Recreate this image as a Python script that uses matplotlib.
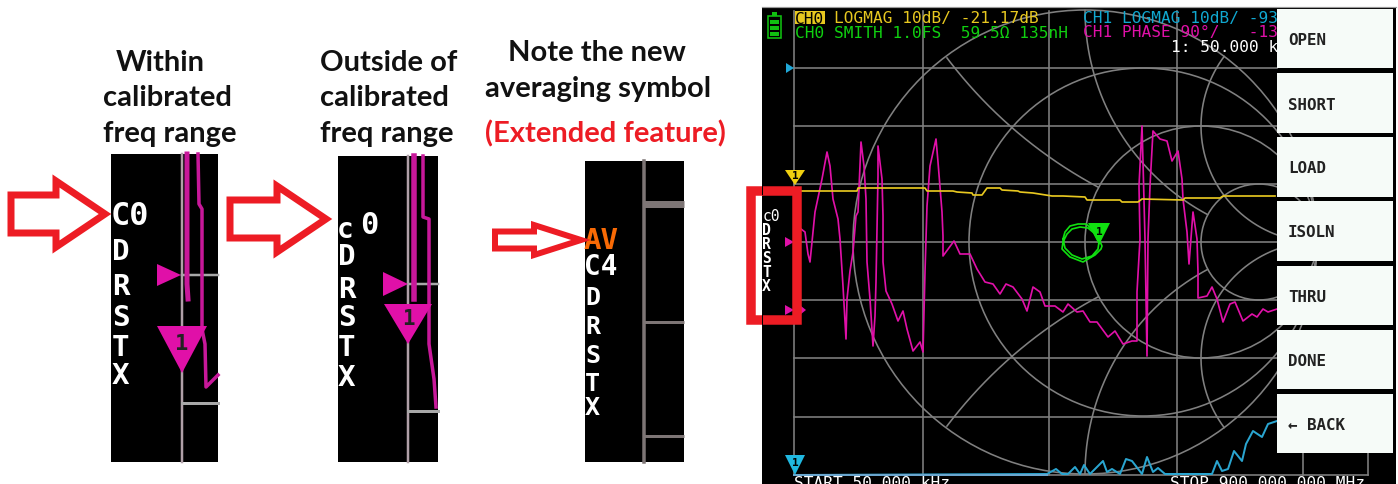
import numpy as np
import matplotlib
matplotlib.use("Agg")
import matplotlib.pyplot as plt
from matplotlib.patches import Rectangle, Polygon, Circle

# Traces on the VNA screen (pixel positions)
phase_x = [801, 805, 808, 810, 812, 815, 822, 827, 830, 833, 838, 840, 843, 846, 847, 850, 853, 856, 858, 861,
           864, 866, 867, 870, 873, 875, 876, 878, 878, 882, 883, 883, 886, 892, 898, 903, 907, 913, 920, 923,
           925, 927, 930, 936, 938, 942, 943, 943, 954, 960, 970, 977, 985, 993, 1000, 1006, 1013, 1022, 1027,
           1033, 1040, 1045, 1055, 1063, 1068, 1077, 1083, 1090, 1097, 1108, 1115, 1123, 1132, 1137, 1137, 1140,
           1139, 1142, 1143, 1145, 1147, 1148, 1150, 1153, 1160, 1167, 1172, 1178, 1182, 1183, 1187, 1189, 1193,
           1197, 1198, 1198, 1207, 1212, 1217, 1223, 1230, 1235, 1243, 1252, 1257, 1263, 1268, 1277]
phase_y = [230, 233, 255, 263, 243, 213, 180, 153, 167, 200, 220, 240, 287, 340, 300, 272, 253, 217, 213, 143,
           167, 200, 263, 300, 347, 317, 283, 177, 147, 180, 217, 263, 292, 305, 322, 312, 330, 352, 343, 353,
           273, 207, 167, 140, 163, 213, 237, 257, 242, 255, 255, 270, 283, 285, 295, 285, 288, 300, 312,
           288, 293, 307, 307, 313, 305, 313, 312, 323, 323, 338, 332, 345, 342, 342, 293, 240,
           187, 127, 163, 240, 357, 240, 187, 132, 140, 142, 162, 152, 180, 200, 233, 265, 213,
           240, 273, 299, 297, 288, 300, 323, 305, 303, 322, 315, 318, 310, 313, 310]

logmag_x = [800, 857, 858, 925, 927, 953, 957, 972, 973, 982, 987, 1000, 1002, 1018, 1020, 1033, 1052, 1063,
            1085, 1087, 1120, 1122, 1138, 1142, 1183, 1185, 1220, 1223, 1275]
logmag_y = [192, 192, 189, 189, 192, 192, 193, 194, 196, 196, 189, 189, 191, 192, 193, 194, 197, 197,
            198, 201, 201, 203, 203, 200, 201, 199, 199, 197, 197]

ch1_x = [794, 1047, 1056, 1062, 1068, 1075, 1080, 1084, 1090, 1103, 1107, 1112, 1120, 1126, 1132, 1142, 1147,
         1153, 1158, 1165, 1212, 1217, 1222, 1228, 1234, 1242, 1246, 1253, 1262, 1268, 1277]
ch1_y = [476, 475, 470, 475, 475, 468, 475, 466, 475, 462, 473, 470, 475, 460, 462, 475, 458,
         473, 469, 475, 475, 462, 472, 470, 452, 462, 445, 432, 438, 425, 422]

smith_x = [1063, 1065, 1070, 1078, 1086, 1092, 1098, 1102, 1101, 1095, 1083, 1070, 1062, 1063, 1067, 1072, 1080,
           1088, 1094, 1099, 1098, 1092, 1082, 1072, 1065, 1063]
smith_y = [240, 233, 227, 225, 225, 230, 238, 247, 250, 256, 263, 258, 250, 243, 235, 230, 228,
           229, 234, 243, 250, 257, 260, 256, 249, 240]

# Smith chart rings
smith_r = [1 / 3, 1, 3]
smith_react = [0.5, 1, 2]
smith_stop = [1, 3, None]
grid_xs = [794, 923, 1049, 1177]
grid_ys = [69, 127, 185, 243, 301, 359, 418]
menu_labels = ["OPEN", "SHORT", "LOAD", "ISOLN", "THRU", "DONE", "\u2190 BACK"]
menu_tops = [10, 74, 138, 202, 267, 331, 395]
menu_bottoms = [69, 134, 198, 262, 326, 390, 454]
panel_letters = ["D", "R", "S", "T", "X"]

RED = "#ed1c24"
GRAY = "#808080"
MAGENTA = "#e010a8"
DARK_MAGENTA = "#c8189a"
MONO = "DejaVu Sans Mono"
PX = 0.72  # one pixel in points

fig = plt.figure(figsize=(13.98, 4.85), dpi=100)
ax = fig.add_axes([0, 0, 1, 1])
ax.set_xlim(0, 1398)
ax.set_ylim(485, 0)
ax.axis("off")


def box(x0, y0, x1, y1, color, z=1):
    ax.add_patch(Rectangle((x0, y0), x1 - x0, y1 - y0, fc=color, ec="none", zorder=z))


def arrow(x0, x1, xh, ym, y_shaft, y_head, lw):
    pts = [(x0, ym - y_shaft), (xh, ym - y_shaft), (xh, ym - y_head), (x1, ym),
           (xh, ym + y_head), (xh, ym + y_shaft), (x0, ym + y_shaft)]
    ax.add_patch(Polygon(pts, closed=True, fc="white", ec=RED, lw=lw * PX, joinstyle="miter", zorder=6))


def tri_down(x, y0, y1, half, color, label=None, z=4, tc="black", fs=9):
    ax.add_patch(Polygon([(x - half, y0), (x + half, y0), (x, y1)], fc=color, ec="none", zorder=z))
    if label:
        ax.text(x, y0 + (y1 - y0) * 0.36, label, color=tc, ha="center", va="center", family=MONO,
                fontsize=fs, fontweight="bold", zorder=z + 1)


def tri_right(x0, x1, y, half, color, z=4):
    ax.add_patch(Polygon([(x0, y - half), (x1, y), (x0, y + half)], fc=color, ec="none", zorder=z))


def letters(x, ys, chars, size, color="white"):
    for c, y in zip(chars, ys):
        ax.text(x, y, c, color=color, family=MONO, fontweight="bold", fontsize=size,
                ha="left", va="center", zorder=5)


# Captions
cap = dict(family="Lato", fontweight="bold", fontsize=21, va="center", color="#111111")
ax.text(160, 63, "Within", ha="center", **cap)
ax.text(103, 98, "calibrated", ha="left", **cap)
ax.text(103, 134, "freq range", ha="left", **cap)
ax.text(320, 63, "Outside of", ha="left", **cap)
ax.text(320, 98, "calibrated", ha="left", **cap)
ax.text(320, 134, "freq range", ha="left", **cap)
ax.text(597, 53, "Note the new", ha="center", **cap)
ax.text(598, 89, "averaging symbol", ha="center", **cap)
cap["color"] = RED
ax.text(605, 134, "(Extended feature)", ha="center", **cap)

# Panel 1: within range
box(111, 155, 218, 463, "black")
ax.plot([182, 182], [155, 463], color="#b0a0a8", lw=2.5 * PX, zorder=2)
ax.plot([182, 218], [276, 276], color="#a8a8a8", lw=2.5 * PX, zorder=2)
ax.plot([182, 218], [404, 404], color="#a8a8a8", lw=3 * PX, zorder=2)
ax.plot([187, 187, 188], [155, 285, 300], color=DARK_MAGENTA, lw=5 * PX, zorder=3)
ax.plot([198, 199, 202, 202, 205, 206, 218], [155, 205, 210, 330, 345, 388, 376], color=DARK_MAGENTA, lw=3.5 * PX, zorder=3)
tri_right(157, 181, 276, 11, MAGENTA)
tri_down(182, 327, 374, 25, MAGENTA, "1", tc="#222222", fs=16)
letters(111, [217], ["C0"], 23)
letters(112, [252, 287, 318, 348, 376], panel_letters, 21)

# Panel 2: outside range
box(338, 157, 438, 463, "black")
ax.plot([408, 408], [157, 463], color="#b0a0a8", lw=2.5 * PX, zorder=2)
ax.plot([408, 438], [285, 285], color="#a8a8a8", lw=2.5 * PX, zorder=2)
ax.plot([408, 438], [412, 412], color="#a8a8a8", lw=3 * PX, zorder=2)
ax.plot([414, 414], [157, 300], color=DARK_MAGENTA, lw=5.5 * PX, zorder=3)
ax.plot([423, 423, 429, 429, 434, 436], [157, 218, 220, 345, 380, 408], color=DARK_MAGENTA, lw=3.5 * PX, zorder=3)
tri_right(383, 408, 285, 12, MAGENTA)
tri_down(408, 305, 345, 24, MAGENTA, "1", tc="#222222", fs=15)
letters(337, [230], ["c"], 20)
letters(360, [226], ["0"], 22)
letters(338, [257, 290, 318, 348, 378], panel_letters, 21)

# Panel 3: averaging symbol
box(585, 162, 684, 463, "black")
pg = "#7d7575"
ax.plot([644, 644], [162, 463], color=pg, lw=3.5 * PX, zorder=2)
ax.plot([644, 684], [205, 205], color=pg, lw=7 * PX, zorder=2, solid_capstyle="butt")
ax.plot([644, 684], [323, 323], color=pg, lw=3 * PX, zorder=2, solid_capstyle="butt")
ax.plot([644, 684], [437, 437], color=pg, lw=3 * PX, zorder=2, solid_capstyle="butt")
letters(584, [241], ["AV"], 21, color="#f96a05")
letters(584, [267], ["C4"], 20)
letters(585, [298, 327, 356, 384, 408], panel_letters, 18)

arrow(11, 105, 56, 215, 19, 33, 7)
arrow(230, 326, 277, 220, 19, 33, 7)
arrow(495, 581, 534, 241, 8.5, 15, 6)

# VNA screen
box(762, 8, 1396, 485, "black")
ax.plot([762, 1396], [8, 8], color="#9a9a9a", lw=1.2 * PX, zorder=2)
for x in grid_xs:
    ax.plot([x, x], [12, 476], color=GRAY, lw=1.6 * PX, zorder=2)
for y in grid_ys:
    ax.plot([794, 1277], [y, y], color=GRAY, lw=1.6 * PX, zorder=2)
ax.plot([1303, 1303], [454, 476], color=GRAY, lw=1.6 * PX, zorder=2)
ax.plot([1368, 1368], [454, 476], color=GRAY, lw=1.6 * PX, zorder=2)
ax.plot([1040, 1368], [476, 476], color=GRAY, lw=1.6 * PX, zorder=2)

# Smith chart in pixels
cx, cy, R = 1085, 243, 232
ax.add_patch(Circle((cx, cy), R, fc="none", ec=GRAY, lw=1.6 * PX, zorder=2))
for r in smith_r:
    rad = R / (r + 1)
    ax.add_patch(Circle((cx + R - rad, cy), rad, fc="none", ec=GRAY, lw=1.6 * PX, zorder=2))
t = np.linspace(0, 2 * np.pi, 1500)
for xr, stop in zip(smith_react, smith_stop):
    rad = R / xr
    for sign in (1, -1):
        px = cx + R + rad * np.cos(t)
        py = cy - sign * rad + rad * np.sin(t)
        keep = np.hypot(px - cx, py - cy) <= R
        if stop is not None:
            stop_rad = R / (stop + 1)
            keep &= np.hypot(px - (cx + R - stop_rad), py - cy) >= stop_rad
        ax.plot(np.where(keep, px, np.nan), np.where(keep, py, np.nan), color=GRAY, lw=1.6 * PX, zorder=2)

ax.plot(ch1_x, ch1_y, color="#2aa5d0", lw=2 * PX, zorder=3)
ax.plot([794, 1047], [476, 476], color="#6aa6cf", lw=2 * PX, zorder=3)
ax.plot(phase_x, phase_y, color=MAGENTA, lw=1.7 * PX, zorder=3)
ax.plot(logmag_x, logmag_y, color="#e8c820", lw=1.7 * PX, zorder=3)
ax.plot(smith_x, smith_y, color="#10e010", lw=1.7 * PX, zorder=3)

# Battery
ax.add_patch(Rectangle((768, 17), 13, 22, fc="none", ec="#10c010", lw=1.6 * PX, zorder=4))
box(772, 13, 777, 17, "#10c010", 4)
for y in (21, 27, 33):
    box(770, y, 779, y + 4, "#10c010", 4)

# Screen markers
tri_right(786, 794, 69, 5, "#20a8d8")
tri_right(785, 794, 243, 5, MAGENTA)
tri_right(785, 794, 311, 5, MAGENTA)
tri_right(801, 806, 311, 4, MAGENTA)
tri_down(795, 171, 186, 10, "#f0d010", "1", fs=8)
tri_down(795, 456, 476, 10, "#20b8e0", "1", fs=8)
tri_down(1099, 224, 246, 11, "#10e010", "1", fs=8)

# Header text
lcd = dict(family=MONO, fontsize=11.6, va="center", ha="left", zorder=5)
box(795, 12, 825, 25, "#e8c820", 4)
ax.text(795, 19, "CH0", color="black", **lcd)
ax.text(834, 19, "LOGMAG 10dB/ -21.17dB", color="#e8c820", **lcd)
ax.text(795, 33, "CH0 SMITH 1.0FS  59.5\u03a9 135nH", color="#10d010", **lcd)
ax.text(1083, 19, "CH1 LOGMAG 10dB/ -93", color="#10a8d0", **lcd)
ax.text(1083, 33, "CH1 PHASE 90\u00b0/   -13", color="#e010a8", **lcd)
ax.text(1171, 47, "1: 50.000 k", color="white", **lcd)
ax.text(794, 484, "START 50.000 kHz", color="white", **lcd)
ax.text(1170, 484, "STOP 900.000 000 MHz", color="white", **lcd)

# Menu on the right
for label, top, bottom in zip(menu_labels, menu_tops, menu_bottoms):
    box(1277, top, 1393, bottom, "#f6fbf8", 7)
    ax.text(1288, (top + bottom) / 2 + 1, label, color="#222222", family=MONO, fontsize=11.4, fontweight="bold",
            ha="left", va="center", zorder=8)

# Red box round the status letters
ax.add_patch(Rectangle((751, 191.5), 45.5, 129.5, fc="none", ec=RED, lw=9.5 * PX, joinstyle="miter", zorder=6))
box(761.5, 187, 763, 196, "black", 7)
box(761.5, 316, 763, 326, "black", 7)
box(756, 196, 762, 316, "white", 5)
ax.text(763, 217, "c0", color="white", family=MONO, fontsize=10.5, ha="left", va="center", zorder=7)
letters(762, [231, 245, 259, 273, 287], panel_letters, 10.5)

fig.savefig("out.png", dpi=100)
